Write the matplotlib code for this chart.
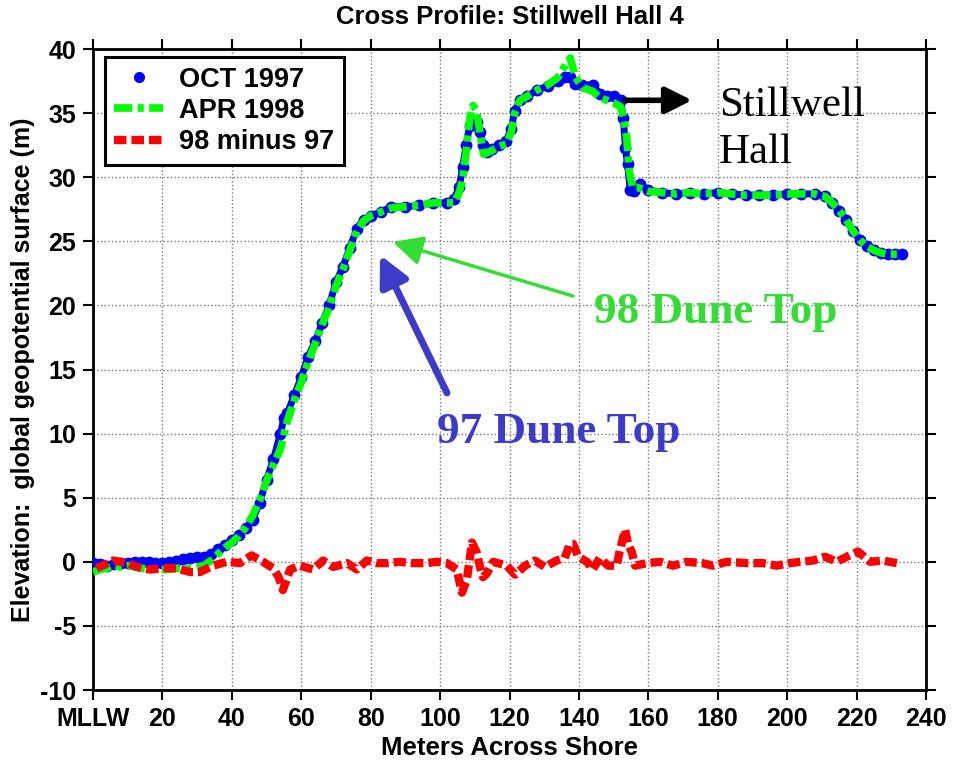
import matplotlib
matplotlib.use("Agg")
import matplotlib.pyplot as plt
from matplotlib.lines import Line2D

# OCT 1997 profile (blue dots)
oct_x = [0, 2, 4, 6, 8, 10, 12, 14, 16, 18, 20, 22, 24, 26, 28, 30, 32, 34, 36, 38,
         40, 42, 44, 46, 48, 50, 52, 54, 55, 56, 58, 60, 62, 64, 66, 68, 70, 72, 74, 76,
         78, 80, 83, 86, 90, 94, 98, 102, 104, 105.5, 106.5, 107.5, 108.5, 109.5, 110.5,
         111.5, 112.5, 113.5, 115, 117, 119, 120.5, 121.5, 123, 125, 128, 131, 134, 136,
         137.5, 139, 141, 144, 146, 148, 150, 152, 152.8, 153.4, 154, 154.8, 156, 157.6,
         160, 164, 168, 172, 176, 180, 184, 188, 192, 196, 200, 204, 208, 211, 213, 215,
         217, 219, 221, 223, 225, 227, 229, 231, 233]
oct_y = [-0.1, -0.2, -0.3, -0.2, -0.1, -0.1, 0.0, 0.0, 0.0, -0.1, -0.1, 0.0, 0.1, 0.2, 0.3,
         0.4, 0.4, 0.6, 1.0, 1.3, 1.7, 2.1, 2.6, 3.3, 4.6, 6.4, 8.0, 10.0, 11.2, 11.6, 13.0,
         14.4, 16.0, 17.2, 18.6, 20.0, 21.8, 23.0, 24.5, 26.0, 26.7, 27.0, 27.3, 27.7, 27.7,
         27.8, 28.0, 28.0, 28.3, 29.2, 30.8, 32.5, 34.0, 34.5, 34.3, 33.5, 32.5, 32.0, 32.2,
         32.5, 32.8, 33.8, 35.2, 36.0, 36.3, 36.8, 37.1, 37.5, 37.8, 37.8, 37.3, 37.2, 37.2,
         36.5, 36.3, 36.3, 36.0, 34.6, 32.3, 31.0, 29.0, 28.9, 29.5, 29.0, 28.8, 28.7, 28.8,
         28.7, 28.8, 28.7, 28.6, 28.6, 28.6, 28.7, 28.7, 28.7, 28.5, 28.0, 27.4, 26.7, 25.8,
         25.1, 24.6, 24.3, 24.1, 24.0, 24.0, 24.0]

# APR 1998 profile (green dash-dot)
apr_x = [0, 2, 4, 6, 8, 10, 12, 14, 16, 18, 20, 22, 24, 26, 28, 30, 32, 34, 36, 38,
         40, 42, 44, 46, 48, 50, 52, 54, 56, 58, 60, 62, 64, 66, 68, 70, 72, 74, 76, 78,
         80, 83, 86, 90, 94, 98, 102, 104, 105.5, 106.5, 107.5, 108.5, 109.5, 110.5, 111.5,
         112.5, 113.5, 115, 117, 119, 120.5, 121.5, 123, 125, 128, 131, 134, 136, 137.5,
         139, 141, 144, 146, 148, 150, 152, 153, 153.8, 154.5, 155.5, 157, 160, 164, 168,
         172, 176, 180, 184, 188, 192, 196, 200, 204, 208, 211, 213, 215, 217, 219, 221,
         223, 225, 227, 229, 231, 233]
apr_y = [-0.8, -0.6, -0.5, -0.3, -0.4, -0.3, -0.4, -0.5, -0.6, -0.6, -0.6, -0.6, -0.5,
         -0.5, -0.5, -0.4, -0.3, 0.1, 0.6, 1.1, 1.5, 2.0, 2.7, 3.6, 4.8, 6.3, 7.6, 8.8, 11.0,
         12.6, 14.0, 15.6, 17.0, 18.5, 19.8, 21.5, 22.8, 24.3, 25.8, 26.6, 27.0, 27.3, 27.6,
         27.7, 27.8, 28.0, 28.0, 28.0, 28.8, 29.8, 32.0, 34.5, 35.6, 35.2, 33.5, 31.8, 31.9,
         32.1, 32.4, 32.6, 33.5, 35.0, 36.0, 36.3, 36.8, 37.2, 37.8, 38.7, 39.3, 37.8, 37.0,
         36.7, 36.2, 36.0, 35.8, 35.5, 34.5, 33.0, 30.5, 29.2, 29.2, 28.9, 28.8, 28.7, 28.8,
         28.7, 28.8, 28.7, 28.6, 28.6, 28.6, 28.7, 28.7, 28.7, 28.5, 28.0, 27.4, 26.7, 25.8,
         25.1, 24.6, 24.3, 24.1, 24.0, 24.0, 24.0]

# 98 minus 97 (red dashed)
diff_x = [1, 3.5, 5.8, 8, 9.8, 12.6, 16.4, 20.2, 24, 28, 30.8, 34.6, 38.5, 42.3, 45.7, 49,
          51.9, 53.5, 54.7, 56.8, 59.6, 63.4, 66.3, 69.2, 73.2, 76, 78.9, 81.8, 85, 88.4,
          92, 96.2, 99, 102, 104.8, 106.3, 107.7, 109.2, 110.6, 111.5, 112.4, 113.5, 115.3,
          119.2, 121.6, 124.5, 127.3, 130.2, 133.6, 135.9, 137.4, 138.3, 139.8, 142.3, 144,
          146, 148.4, 150.9, 151.8, 153.3, 154.2, 155.3, 156.2, 159.6, 163.4, 167.1, 171,
          175.5, 178.6, 182.6, 188.4, 193, 197, 200.8, 203.7, 207.5, 210.9, 214.3, 217.2,
          220.4, 223.9, 227.6, 231.6]
diff_y = [-0.5, -0.2, 0.1, 0.0, -0.1, -0.4, -0.6, -0.5, -0.5, -0.8, -0.8, -0.3, 0.0, -0.1,
          0.5, 0.0, -0.5, -1.2, -2.2, -0.6, -0.3, -0.6, 0.1, -0.4, -0.1, -0.6, 0.1, -0.1,
          -0.1, 0.0, -0.1, -0.1, 0.0, -0.1, -0.6, -2.4, -1.4, 1.5, 0.7, -0.4, -1.2, -0.9,
          0.0, -0.3, -1.0, -0.3, 0.1, -0.4, 0.1, 0.3, 1.4, 1.4, 0.4, 0.0, -0.6, 0.3, -0.3,
          -0.3, 0.9, 2.5, 1.4, 0.7, -0.3, -0.1, 0.0, -0.3, 0.0, -0.1, -0.3, 0.0, -0.1, -0.1,
          -0.3, -0.1, 0.0, 0.1, 0.4, 0.0, 0.4, 0.8, 0.0, 0.1, -0.1]

x_ticks = list(range(0, 241, 20))
x_tick_labels = ["MLLW"] + [str(v) for v in x_ticks[1:]]
y_ticks = list(range(-10, 41, 5))
legend_labels = ["OCT 1997", "APR 1998", "98 minus 97"]

plt.rcParams['font.family'] = ['Liberation Sans', 'DejaVu Sans']
plt.rcParams['font.weight'] = 'bold'
plt.rcParams['axes.unicode_minus'] = False

fig = plt.figure(figsize=(9.56, 7.66), dpi=100)
ax = fig.add_axes([0.0973, 0.0992, 0.8713, 0.8368])

blue = '#0000ff'
green = '#00ff00'
red = '#ff0000'
green_dash = (2.4, 0.7, 0.8, 0.7)
red_dash = (1.5, 0.6)

ax.plot(oct_x, oct_y, color=blue, lw=5, zorder=3)
ax.plot(oct_x, oct_y, ls='none', marker='o', ms=7.5, color=blue, zorder=3)
ax.plot(apr_x, apr_y, color=green, lw=5.5, dashes=green_dash, zorder=4)
ax.plot(diff_x, diff_y, color=red, lw=6, dashes=red_dash, zorder=5)

ax.set_xlim(0, 240)
ax.set_ylim(-10, 40)
ax.set_xticks(x_ticks)
ax.set_xticklabels(x_tick_labels)
ax.set_yticks(y_ticks)
ax.tick_params(direction='out', length=7, width=1.5, labelsize=18, pad=5,
               top=True, right=True)
for lab in ax.get_xticklabels() + ax.get_yticklabels():
    lab.set_fontweight('bold')
for sp in ax.spines.values():
    sp.set_linewidth(2)
ax.grid(True, ls=':', lw=1, color='#777777')
ax.set_axisbelow(True)

ax.set_title("Cross Profile: Stillwell Hall 4", fontsize=18.5, fontweight='bold', pad=18)
ax.set_xlabel("Meters Across Shore", fontsize=18.5, fontweight='bold')
ax.set_ylabel("Elevation:  global geopotential surface (m)", fontsize=18, fontweight='bold')
ax.xaxis.set_label_coords(0.5, -0.071)
ax.yaxis.set_label_coords(-0.07, 0.5)

handles = [Line2D([], [], ls='none', marker='o', ms=7, color=blue),
           Line2D([], [], color=green, lw=5.5, dashes=green_dash),
           Line2D([], [], color=red, lw=6, dashes=red_dash)]
leg = ax.legend(handles, legend_labels, loc='upper left', bbox_to_anchor=(0.0144, 0.9875),
                borderaxespad=0, fancybox=False, framealpha=1, edgecolor='black',
                prop={'size': 19.5, 'weight': 'bold'}, handlelength=1.8, handletextpad=0.6,
                labelspacing=0.2, borderpad=0.35)
leg.get_frame().set_linewidth(2.2)

# annotations
ax.annotate("", xy=(172.6, 36.0), xytext=(153.3, 36.0),
            arrowprops=dict(arrowstyle='-|>', lw=4, color='black', mutation_scale=40,
                            shrinkA=0, shrinkB=0))
ax.text(180.4, 37.1, "Stillwell\nHall", family='Liberation Serif', fontweight='normal',
        fontsize=31, va='top', ha='left', linespacing=1.3)

ax.annotate("", xy=(86.4, 24.95), xytext=(138.3, 20.73),
            arrowprops=dict(arrowstyle='-|>', lw=2.5, color='#33dd33', mutation_scale=45,
                            shrinkA=0, shrinkB=0))
ax.text(144.3, 19.5, "98 Dune Top", family='Liberation Serif', fontweight='bold',
        fontsize=32.5, color='#33dd33', va='center', ha='left')

ax.annotate("", xy=(82.7, 23.93), xytext=(102.0, 13.17),
            arrowprops=dict(arrowstyle='-|>', lw=5, color='#3c3cc8', mutation_scale=45,
                            shrinkA=0, shrinkB=0))
ax.text(99.1, 10.1, "97 Dune Top", family='Liberation Serif', fontweight='bold',
        fontsize=32.5, color='#3c3cc8', va='center', ha='left')

fig.savefig("out.png", dpi=100)
